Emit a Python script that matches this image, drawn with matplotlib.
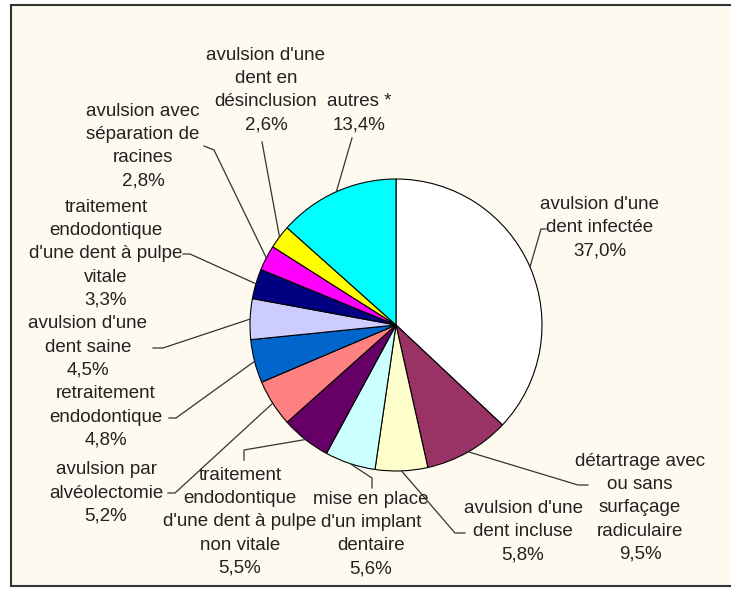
import numpy as np
import matplotlib
matplotlib.use("Agg")
import matplotlib.pyplot as plt
from matplotlib.patches import Rectangle

# Répartition des actes (en %), sens horaire depuis midi
labels = [
    "avulsion d'une\ndent infectée",
    "détartrage avec\nou sans\nsurfaçage\nradiculaire",
    "avulsion d'une\ndent incluse",
    "mise en place\nd'un implant\ndentaire",
    "traitement\nendodontique\nd'une dent à pulpe\nnon vitale",
    "avulsion par\nalvéolectomie",
    "retraitement\nendodontique",
    "avulsion d'une\ndent saine",
    "traitement\nendodontique\nd'une dent à pulpe\nvitale",
    "avulsion avec\nséparation de\nracines",
    "avulsion d'une\ndent en\ndésinclusion",
    "autres *",
]
values = [37.0, 9.5, 5.8, 5.6, 5.5, 5.2, 4.8, 4.5, 3.3, 2.8, 2.6, 13.4]
pct_labels = ["37,0%", "9,5%", "5,8%", "5,6%", "5,5%", "5,2%", "4,8%", "4,5%",
              "3,3%", "2,8%", "2,6%", "13,4%"]

colors = ["#FFFFFF", "#993366", "#FFFFCC", "#CCFFFF", "#660066", "#FF8080",
          "#0066CC", "#CCCCFF", "#000080", "#FF00FF", "#FFFF00", "#00FFFF"]

# mise en page (pixels, origine en haut à gauche)
W, H = 731, 590
cx, cy, R = 396, 325, 146
text_pos = [(600, 228), (640, 508), (523, 532), (371, 534), (240, 522), (106, 493),
            (106, 417), (88, 347), (106, 254), (143, 146), (266, 90), (359, 113)]
leader_pts = [
    [(541, 229), (546, 229)],
    [(578, 485), (588, 485)],
    [(455, 533), (465, 533)],
    [(372, 478), (372, 488)],
    [(244, 450), (244, 460)],
    [(175, 493), (168, 493)],
    [(176, 418), (169, 418)],
    [(163, 348), (153, 348)],
    [(190, 254), (183, 254)],
    [(214, 150), (204, 146)],
    [(262, 142)],
    [(352, 138)],
]

plt.rcParams['font.family'] = ['Liberation Sans', 'DejaVu Sans']

fig = plt.figure(figsize=(W / 100, H / 100), dpi=100)
fig.patch.set_facecolor("white")
ax = fig.add_axes([0, 0, 1, 1])

# cadre
ax.add_patch(Rectangle((11, 4), W, H - 9, facecolor="#FEFAEF", edgecolor="#333333",
                       linewidth=1.5, zorder=0))

wedges, _ = ax.pie(values, colors=colors, startangle=90, counterclock=False,
                   center=(cx, H - cy), radius=R, frame=True,
                   wedgeprops=dict(edgecolor="black", linewidth=0.8))
ax.set_xlim(0, W)
ax.set_ylim(0, H)
ax.axis("off")

for w, lab, pct, (tx, ty), pts in zip(wedges, labels, pct_labels, text_pos, leader_pts):
    mid = np.deg2rad((w.theta1 + w.theta2) / 2)
    sx = cx + R * np.cos(mid)
    sy = (H - cy) + R * np.sin(mid)
    xs = [sx] + [p[0] for p in pts]
    ys = [sy] + [H - p[1] for p in pts]
    ax.plot(xs, ys, color="#333333", linewidth=0.9, zorder=3)
    ax.text(tx, H - ty, lab + "\n" + pct, ha="center", va="center",
            multialignment="center", fontsize=13.5, linespacing=1.47, color="#222222")

fig.savefig("out.png", dpi=100, facecolor=fig.get_facecolor())
